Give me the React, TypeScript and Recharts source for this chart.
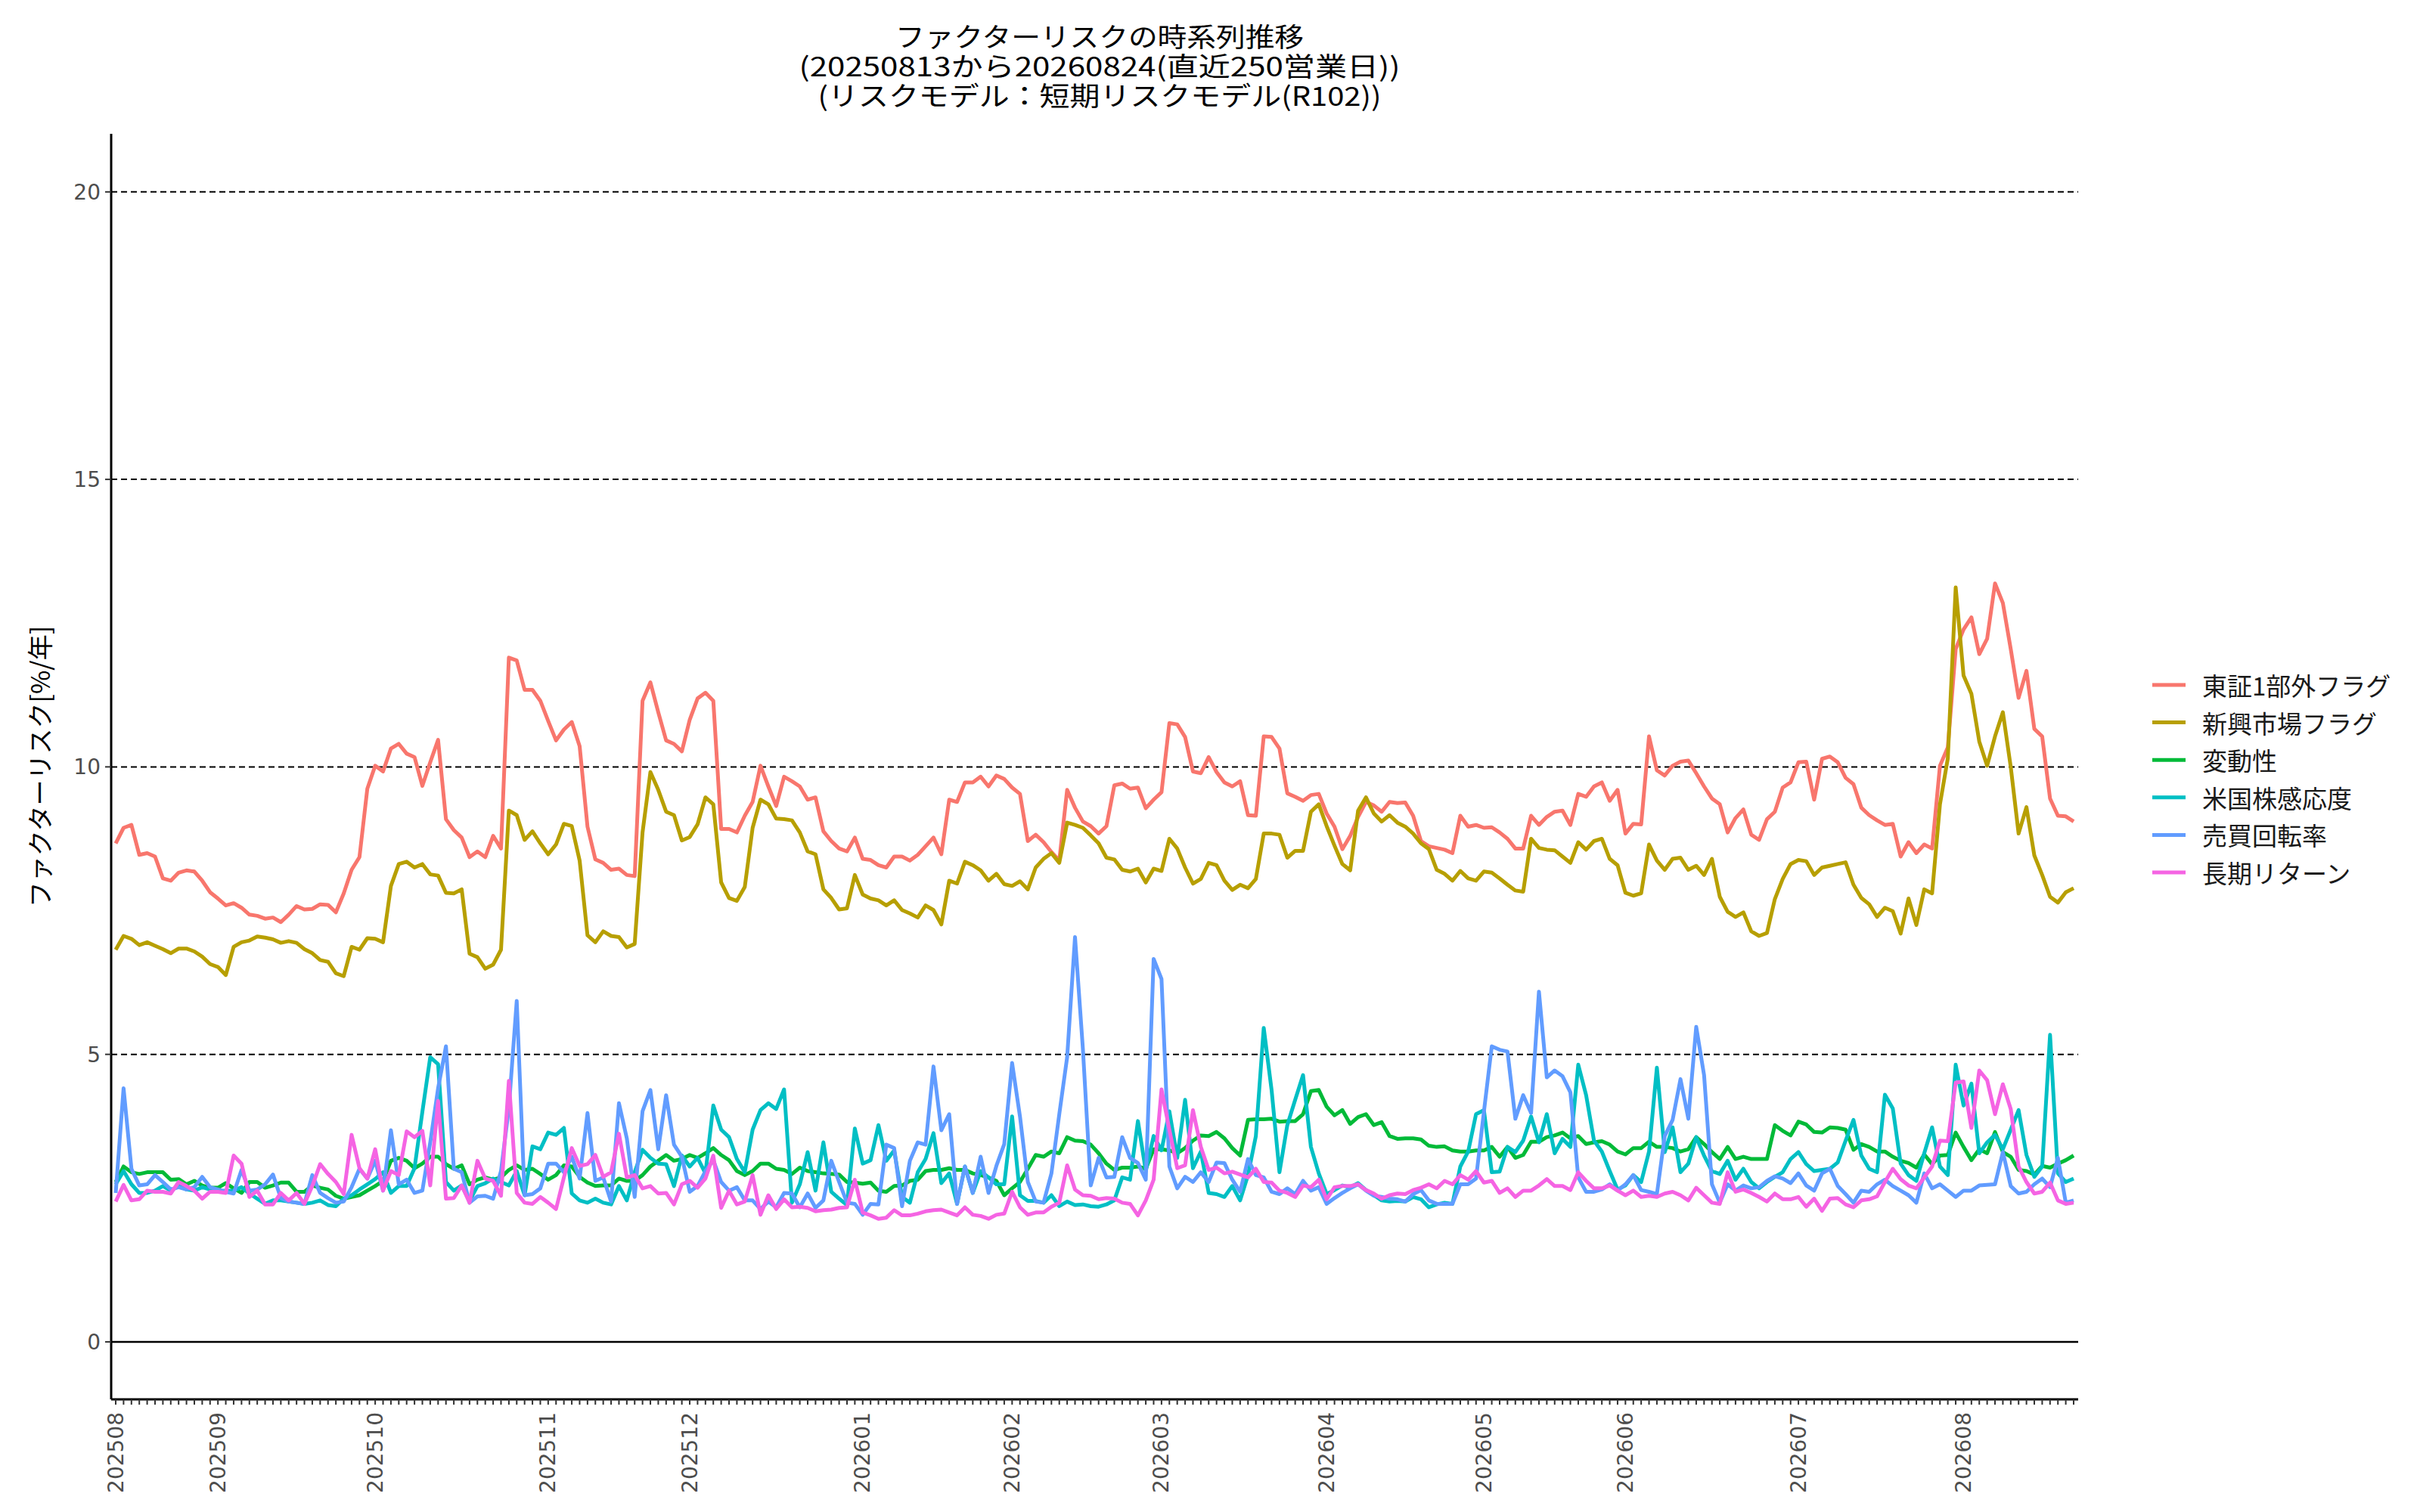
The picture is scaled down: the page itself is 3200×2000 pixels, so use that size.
import { CartesianGrid, Legend, Line, LineChart, ReferenceLine, XAxis, YAxis } from "recharts";

// 250 business days, 20250813 .. 20260824
const tosho = [
  8.67, 8.94, 8.99, 8.47, 8.5, 8.44, 8.06, 8.02, 8.16, 8.2, 8.18, 8.02, 7.82, 7.71, 7.59, 7.63, 7.55, 7.43, 7.41, 7.36,
  7.38, 7.3, 7.43, 7.58, 7.52, 7.53, 7.61, 7.6, 7.47, 7.8, 8.21, 8.43, 9.62, 10.02, 9.92, 10.32, 10.4, 10.23, 10.17, 9.67,
  10.08, 10.47, 9.09, 8.9, 8.77, 8.43, 8.53, 8.43, 8.8, 8.58,
  11.9, 11.85, 11.34, 11.34, 11.15, 10.8, 10.46, 10.65, 10.78, 10.36, 8.96, 8.39, 8.33, 8.21, 8.23, 8.12, 8.1, 11.15, 11.47, 10.95,
  10.46, 10.4, 10.27, 10.82, 11.19, 11.29, 11.15, 8.92, 8.92, 8.86, 9.15, 9.39, 10.02, 9.66, 9.32, 9.83, 9.75, 9.66, 9.43, 9.47,
  8.88, 8.71, 8.58, 8.53, 8.77, 8.4, 8.38, 8.29, 8.25, 8.44,
  8.44, 8.37, 8.47, 8.62, 8.77, 8.48, 9.43, 9.39, 9.73, 9.73, 9.83, 9.66, 9.85, 9.79, 9.64, 9.53, 8.71, 8.82, 8.69, 8.52,
  8.37, 9.6, 9.29, 9.05, 8.97, 8.84, 8.97, 9.68, 9.71, 9.62, 9.64, 9.28, 9.43, 9.56, 10.76, 10.74, 10.52, 9.92, 9.89, 10.17,
  9.91, 9.73, 9.66, 9.75, 9.16, 9.15, 10.53, 10.52, 10.32, 9.54,
  9.48, 9.41, 9.51, 9.53, 9.19, 8.96, 8.57, 8.8, 9.13, 9.39, 9.33, 9.22, 9.39, 9.37, 9.38, 9.15, 8.71, 8.62, 8.59, 8.56,
  8.5, 9.15, 8.96, 8.99, 8.94, 8.95, 8.86, 8.75, 8.58, 8.58, 9.15, 8.99, 9.13, 9.22, 9.24, 8.99, 9.53, 9.48, 9.66, 9.73,
  9.41, 9.6, 8.84, 9.01, 9.0, 10.53, 9.94, 9.85, 10.02, 10.09,
  10.11, 9.89, 9.66, 9.45, 9.35, 8.86, 9.11, 9.26, 8.82, 8.73, 9.09, 9.22, 9.64, 9.73, 10.08, 10.09, 9.43, 10.14, 10.18, 10.08,
  9.81, 9.7, 9.29, 9.16, 9.07, 8.99, 9.01, 8.44, 8.69, 8.5, 8.65, 8.58, 10.02, 10.34, 12.05, 12.39, 12.6, 11.96, 12.23, 13.19,
  12.85, 12.05, 11.2, 11.67, 10.66, 10.53, 9.45, 9.15, 9.14, 9.05,
];

const shinko = [
  6.82, 7.06, 7.01, 6.9, 6.95, 6.89, 6.83, 6.76, 6.84, 6.84, 6.79, 6.7, 6.57, 6.52, 6.38, 6.87, 6.95, 6.98, 7.05, 7.03,
  7.0, 6.94, 6.97, 6.94, 6.83, 6.76, 6.64, 6.61, 6.41, 6.36, 6.87, 6.82, 7.02, 7.01, 6.95, 7.93, 8.31, 8.35, 8.25, 8.31,
  8.13, 8.11, 7.81, 7.8, 7.87, 6.75, 6.69, 6.49, 6.56, 6.82,
  9.24, 9.16, 8.73, 8.88, 8.67, 8.48, 8.65, 9.01, 8.97, 8.37, 7.07, 6.95, 7.14, 7.06, 7.04, 6.86, 6.92, 8.86, 9.91, 9.6,
  9.22, 9.16, 8.72, 8.78, 9.0, 9.47, 9.35, 7.99, 7.72, 7.67, 7.91, 8.94, 9.43, 9.35, 9.1, 9.09, 9.07, 8.86, 8.53, 8.48,
  7.87, 7.72, 7.52, 7.54, 8.12, 7.78, 7.71, 7.68, 7.59, 7.68,
  7.51, 7.45, 7.38, 7.59, 7.51, 7.26, 8.02, 7.97, 8.35, 8.29, 8.2, 8.02, 8.14, 7.96, 7.93, 8.01, 7.87, 8.25, 8.4, 8.5,
  8.33, 9.03, 8.99, 8.94, 8.81, 8.67, 8.42, 8.39, 8.21, 8.18, 8.23, 7.99, 8.23, 8.19, 8.75, 8.58, 8.25, 7.97, 8.05, 8.33,
  8.29, 8.02, 7.86, 7.95, 7.89, 8.05, 8.84, 8.84, 8.82, 8.42,
  8.54, 8.54, 9.22, 9.35, 8.97, 8.63, 8.31, 8.2, 9.24, 9.47, 9.19, 9.05, 9.16, 9.03, 8.96, 8.84, 8.67, 8.57, 8.21, 8.14,
  8.02, 8.19, 8.06, 8.02, 8.18, 8.16, 8.06, 7.95, 7.85, 7.83, 8.75, 8.59, 8.56, 8.55, 8.44, 8.33, 8.69, 8.56, 8.71, 8.75,
  8.4, 8.29, 7.81, 7.76, 7.8, 8.65, 8.37, 8.21, 8.4, 8.42,
  8.21, 8.28, 8.12, 8.4, 7.74, 7.48, 7.39, 7.47, 7.14, 7.06, 7.11, 7.7, 8.05, 8.31, 8.38, 8.36, 8.12, 8.25, 8.28, 8.31,
  8.34, 7.95, 7.72, 7.61, 7.39, 7.55, 7.49, 7.1, 7.71, 7.25, 7.87, 7.8, 9.35, 10.15, 13.12, 11.59, 11.27, 10.44, 10.02, 10.53,
  10.95, 10.0, 8.84, 9.3, 8.46, 8.12, 7.74, 7.64, 7.82, 7.89,
];

const hendo = [
  2.78, 3.05, 2.95, 2.92, 2.95, 2.95, 2.95, 2.82, 2.83, 2.74, 2.8, 2.72, 2.68, 2.68, 2.76, 2.67, 2.59, 2.78, 2.78, 2.68,
  2.72, 2.77, 2.77, 2.61, 2.61, 2.72, 2.68, 2.65, 2.54, 2.49, 2.52, 2.55, 2.63, 2.71, 2.8, 3.15, 3.2, 3.15, 3.02, 3.1,
  3.22, 3.22, 3.09, 3.01, 3.07, 2.74, 2.82, 2.86, 2.82, 2.86,
  2.99, 3.07, 2.99, 3.01, 2.92, 2.82, 2.9, 3.07, 3.05, 2.87, 2.77, 2.71, 2.72, 2.72, 2.84, 2.8, 2.8, 2.9, 3.05, 3.15,
  3.25, 3.15, 3.18, 3.25, 3.2, 3.28, 3.37, 3.25, 3.16, 2.97, 2.9, 2.97, 3.1, 3.1, 3.01, 2.99, 2.92, 3.03, 2.97, 2.95,
  2.93, 2.92, 2.91, 2.78, 2.77, 2.75, 2.77, 2.63, 2.61, 2.71,
  2.72, 2.8, 2.82, 2.97, 2.99, 2.99, 3.02, 2.99, 2.99, 2.93, 2.9, 2.86, 2.8, 2.55, 2.67, 2.78, 3.01, 3.25, 3.22, 3.31,
  3.28, 3.56, 3.5, 3.49, 3.43, 3.28, 3.1, 2.99, 3.03, 3.03, 3.05, 3.01, 3.35, 3.35, 3.33, 3.28, 3.37, 3.5, 3.59, 3.58,
  3.65, 3.54, 3.37, 3.24, 3.86, 3.87, 3.87, 3.88, 3.83, 3.84,
  3.84, 3.96, 4.36, 4.38, 4.09, 3.94, 4.03, 3.79, 3.91, 3.96, 3.77, 3.82, 3.58, 3.53, 3.54, 3.54, 3.52, 3.41, 3.39, 3.4,
  3.33, 3.31, 3.31, 3.33, 3.33, 3.39, 3.22, 3.39, 3.2, 3.25, 3.48, 3.48, 3.56, 3.59, 3.64, 3.54, 3.58, 3.44, 3.47, 3.49,
  3.43, 3.31, 3.26, 3.37, 3.37, 3.48, 3.39, 3.39, 3.37, 3.31,
  3.35, 3.56, 3.44, 3.3, 3.18, 3.39, 3.18, 3.22, 3.18, 3.18, 3.18, 3.77, 3.67, 3.59, 3.83, 3.78, 3.65, 3.64, 3.73, 3.72,
  3.69, 3.34, 3.44, 3.39, 3.31, 3.31, 3.22, 3.15, 3.11, 3.03, 3.26, 3.09, 3.24, 3.25, 3.64, 3.39, 3.16, 3.35, 3.28, 3.65,
  3.3, 3.22, 2.99, 2.97, 2.91, 3.06, 3.03, 3.1, 3.16, 3.24,
];

const beikoku = [
  2.74, 2.97, 2.74, 2.59, 2.59, 2.63, 2.71, 2.63, 2.71, 2.65, 2.63, 2.69, 2.65, 2.63, 2.63, 2.63, 2.69, 2.58, 2.49, 2.4,
  2.46, 2.46, 2.44, 2.42, 2.4, 2.42, 2.46, 2.38, 2.36, 2.49, 2.55, 2.65, 2.74, 2.83, 2.95, 2.59, 2.71, 2.71, 3.02, 4.0,
  4.95, 4.83, 2.78, 2.63, 2.72, 2.45, 2.71, 2.76, 2.84, 2.78,
  2.72, 2.97, 2.55, 3.4, 3.35, 3.64, 3.6, 3.72, 2.58, 2.46, 2.42, 2.49, 2.42, 2.39, 2.71, 2.46, 2.95, 3.34, 3.2, 3.1,
  3.09, 2.71, 3.24, 3.05, 3.2, 2.93, 4.11, 3.69, 3.56, 3.18, 2.95, 3.69, 4.03, 4.15, 4.05, 4.39, 2.42, 2.74, 3.3, 2.63,
  3.47, 2.61, 2.49, 2.38, 3.71, 3.1, 3.16, 3.77, 3.15, 3.33,
  2.52, 2.42, 2.95, 3.18, 3.63, 2.76, 2.93, 2.4, 3.05, 2.59, 2.97, 2.86, 2.74, 2.74, 3.92, 2.55, 2.45, 2.45, 2.42, 2.55,
  2.36, 2.44, 2.38, 2.39, 2.36, 2.35, 2.39, 2.46, 2.86, 2.82, 3.84, 2.97, 3.58, 3.33, 4.01, 3.2, 4.21, 3.02, 3.31, 2.59,
  2.57, 2.52, 2.71, 2.46, 2.9, 3.58, 5.46, 4.38, 2.95, 3.77,
  4.21, 4.64, 3.39, 2.93, 2.57, 2.64, 2.72, 2.69, 2.76, 2.64, 2.55, 2.46, 2.44, 2.45, 2.44, 2.52, 2.48, 2.34, 2.39, 2.42,
  2.4, 3.05, 3.31, 3.96, 4.03, 2.95, 2.96, 3.39, 3.3, 3.5, 3.92, 3.47, 3.96, 3.28, 3.53, 3.39, 4.82, 4.29, 3.5, 3.31,
  2.97, 2.65, 2.72, 2.9, 2.78, 3.31, 4.77, 3.3, 3.73, 2.95,
  3.1, 3.56, 3.24, 2.97, 2.92, 3.15, 2.82, 3.01, 2.78, 2.67, 2.78, 2.87, 2.95, 3.18, 3.3, 3.09, 2.97, 2.99, 3.01, 3.12,
  3.5, 3.86, 3.24, 3.01, 2.95, 4.3, 4.06, 3.1, 2.9, 2.8, 3.28, 3.73, 3.05, 2.9, 4.82, 4.11, 4.49, 3.28, 3.47, 3.6,
  3.35, 3.69, 4.03, 3.25, 2.87, 3.05, 5.34, 2.93, 2.78, 2.84,
];

const baibai = [
  2.59, 4.41, 3.01, 2.72, 2.74, 2.9, 2.78, 2.65, 2.69, 2.65, 2.69, 2.87, 2.69, 2.65, 2.61, 2.58, 2.99, 2.63, 2.65, 2.74,
  2.91, 2.5, 2.44, 2.42, 2.4, 2.9, 2.59, 2.5, 2.42, 2.44, 2.69, 3.01, 2.84, 3.15, 2.63, 3.68, 2.74, 2.82, 2.59, 2.63,
  3.47, 4.41, 5.14, 3.01, 2.95, 2.42, 2.53, 2.54, 2.49, 2.97,
  4.07, 5.93, 2.55, 2.57, 2.67, 3.1, 3.1, 2.95, 3.22, 2.84, 3.98, 2.8, 2.86, 2.44, 4.15, 3.54, 2.52, 4.01, 4.38, 3.35,
  4.29, 3.43, 3.22, 2.61, 2.71, 2.97, 3.16, 2.78, 2.63, 2.69, 2.46, 2.46, 2.31, 2.44, 2.34, 2.59, 2.58, 2.34, 2.58, 2.33,
  2.46, 3.15, 2.78, 2.42, 2.4, 2.21, 2.4, 2.39, 3.43, 3.37,
  2.36, 3.15, 3.47, 3.43, 4.79, 3.68, 3.96, 2.4, 3.05, 2.59, 3.22, 2.59, 3.06, 3.44, 4.85, 3.92, 2.78, 2.44, 2.42, 2.93,
  3.96, 4.95, 7.04, 5.1, 2.72, 3.2, 2.86, 2.87, 3.56, 3.2, 3.11, 2.82, 6.66, 6.31, 3.05, 2.67, 2.87, 2.78, 2.95, 2.78,
  3.12, 3.11, 2.82, 2.61, 3.18, 2.9, 2.86, 2.61, 2.57, 2.67,
  2.57, 2.8, 2.63, 2.69, 2.4, 2.5, 2.59, 2.67, 2.74, 2.63, 2.54, 2.52, 2.49, 2.48, 2.44, 2.57, 2.64, 2.46, 2.4, 2.4,
  2.4, 2.74, 2.74, 2.84, 4.0, 5.14, 5.08, 5.05, 3.88, 4.29, 3.98, 6.09, 4.6, 4.72, 4.62, 4.34, 2.86, 2.61, 2.61, 2.65,
  2.74, 2.63, 2.74, 2.9, 2.64, 2.61, 2.57, 3.58, 3.86, 4.57,
  3.88, 5.48, 4.64, 2.74, 2.42, 2.74, 2.63, 2.72, 2.67, 2.69, 2.8, 2.88, 2.84, 2.76, 2.93, 2.72, 2.63, 2.93, 3.01, 2.71,
  2.57, 2.42, 2.63, 2.61, 2.74, 2.82, 2.71, 2.63, 2.55, 2.42, 2.93, 2.67, 2.74, 2.63, 2.52, 2.63, 2.63, 2.72, 2.73, 2.74,
  3.3, 2.71, 2.58, 2.61, 2.74, 2.84, 2.69, 3.2, 2.42, 2.46,
];

const choki = [
  2.44, 2.73, 2.46, 2.48, 2.63, 2.61, 2.61, 2.58, 2.78, 2.71, 2.63, 2.49, 2.61, 2.61, 2.59, 3.24, 3.1, 2.52, 2.63, 2.39,
  2.39, 2.59, 2.46, 2.59, 2.4, 2.71, 3.09, 2.92, 2.78, 2.57, 3.6, 3.02, 2.84, 3.35, 2.63, 2.97, 2.9, 3.66, 3.56, 3.67,
  2.72, 4.19, 2.49, 2.5, 2.72, 2.42, 3.15, 2.84, 2.8, 2.54,
  4.54, 2.59, 2.42, 2.4, 2.52, 2.42, 2.31, 2.86, 3.37, 3.06, 3.09, 3.25, 2.87, 2.95, 3.62, 2.86, 2.9, 2.67, 2.71, 2.58,
  2.59, 2.39, 2.74, 2.8, 2.68, 2.84, 3.24, 2.33, 2.63, 2.39, 2.44, 2.9, 2.21, 2.55, 2.31, 2.48, 2.34, 2.35, 2.33, 2.27,
  2.29, 2.3, 2.33, 2.34, 2.82, 2.25, 2.2, 2.14, 2.16, 2.29,
  2.2, 2.2, 2.23, 2.27, 2.29, 2.3, 2.25, 2.2, 2.34, 2.21, 2.19, 2.14, 2.21, 2.23, 2.61, 2.34, 2.21, 2.25, 2.25, 2.35,
  2.42, 3.07, 2.65, 2.55, 2.54, 2.48, 2.5, 2.49, 2.42, 2.4, 2.2, 2.46, 2.82, 4.39, 3.69, 3.02, 3.07, 4.03, 3.39, 2.99,
  3.03, 2.93, 2.96, 2.91, 2.86, 3.01, 2.78, 2.77, 2.63, 2.59,
  2.52, 2.72, 2.69, 2.82, 2.48, 2.69, 2.71, 2.71, 2.74, 2.64, 2.58, 2.49, 2.55, 2.58, 2.57, 2.64, 2.68, 2.74, 2.67, 2.8,
  2.74, 2.9, 2.82, 2.97, 2.77, 2.8, 2.59, 2.67, 2.52, 2.63, 2.63, 2.72, 2.83, 2.71, 2.71, 2.64, 2.95, 2.8, 2.67, 2.67,
  2.72, 2.63, 2.55, 2.63, 2.52, 2.54, 2.52, 2.58, 2.61, 2.55,
  2.46, 2.68, 2.55, 2.42, 2.4, 2.95, 2.61, 2.65, 2.59, 2.52, 2.44, 2.58, 2.48, 2.48, 2.52, 2.35, 2.49, 2.28, 2.49, 2.5,
  2.39, 2.34, 2.46, 2.48, 2.53, 2.78, 3.01, 2.83, 2.72, 2.67, 2.86, 3.05, 3.5, 3.49, 4.51, 4.53, 3.72, 4.72, 4.55, 3.96,
  4.48, 4.05, 3.05, 2.78, 2.58, 2.61, 2.77, 2.46, 2.4, 2.42,
];

// month labels and the day index where each month starts
const monthLabels = ["202508", "202509", "202510", "202511", "202512", "202601", "202602", "202603", "202604", "202605", "202606", "202607", "202608"];
const monthStarts = [0, 13, 33, 55, 73, 95, 114, 133, 154, 174, 192, 214, 235];

const yTicks = [0, 5, 10, 15, 20];
const gridValues = [5, 10, 15, 20];

const series = [
  { key: "tosho", name: "東証1部外フラグ", color: "#F8766D" },
  { key: "shinko", name: "新興市場フラグ", color: "#B79F00" },
  { key: "hendo", name: "変動性", color: "#00BA38" },
  { key: "beikoku", name: "米国株感応度", color: "#00BFC4" },
  { key: "baibai", name: "売買回転率", color: "#619CFF" },
  { key: "choki", name: "長期リターン", color: "#F564E3" },
];

const titleLines = [
  "ファクターリスクの時系列推移",
  "(20250813から20260824(直近250営業日))",
  "(リスクモデル：短期リスクモデル(R102))",
];

const rows = tosho.map((v, i) => ({
  i,
  tosho: v,
  shinko: shinko[i],
  hendo: hendo[i],
  beikoku: beikoku[i],
  baibai: baibai[i],
  choki: choki[i],
}));

const jp = '"Noto Sans CJK JP", "Noto Sans", sans-serif';
const tickFont = '"DejaVu Sans", sans-serif';

function MonthTick(props: any) {
  const { x, y, payload } = props;
  const k = monthStarts.indexOf(payload.value);
  if (k < 0) return <g />;
  return (
    <text
      x={x}
      y={y}
      transform={`rotate(-90 ${x} ${y})`}
      textAnchor="end"
      dominantBaseline="central"
      fontSize={28}
      fontFamily={tickFont}
      fill="#4d4d4d"
    >
      {monthLabels[k]}
    </text>
  );
}

function LegendBox(props: any) {
  const items = [...(props.payload || [])];
  // keep the series order (the legend otherwise comes sorted by name)
  const order = series.map((s) => s.name);
  items.sort((a: any, b: any) => order.indexOf(a.value) - order.indexOf(b.value));
  return (
    <svg width={380} height={310}>
      {items.map((it: any, n: number) => {
        const cy = 32 + n * 49.6;
        return (
          <g key={it.value}>
            <line x1={16} x2={60} y1={cy} y2={cy} stroke={it.color} strokeWidth={5} />
            <text x={82} y={cy} dominantBaseline="central" fontSize={33} fontFamily={jp} fill="#1a1a1a">
              {it.value}
            </text>
          </g>
        );
      })}
    </svg>
  );
}

export default function App() {
  return (
    <div style={{ position: "absolute", left: 0, top: 0, width: 3200, height: 2000, background: "#fff" }}>
      <LineChart
        width={3200}
        height={2000}
        data={rows}
        margin={{ top: 177, right: 452, bottom: 9, left: 47 }}
      >
        <CartesianGrid
          vertical={false}
          horizontalValues={gridValues}
          stroke="#000"
          strokeDasharray="8 5"
          strokeWidth={2}
        />
        <XAxis
          dataKey="i"
          type="category"
          scale="point"
          interval={0}
          height={140}
          padding={{ left: 6, right: 6 }}
          axisLine={{ stroke: "#000", strokeWidth: 3 }}
          tickLine={{ stroke: "#333", strokeWidth: 2 }}
          tickSize={7}
          tickMargin={10}
          tick={<MonthTick />}
        />
        <YAxis
          type="number"
          domain={[-1, 21.01]}
          ticks={yTicks}
          width={100}
          allowDataOverflow
          axisLine={{ stroke: "#000", strokeWidth: 3 }}
          tickLine={{ stroke: "#333", strokeWidth: 2 }}
          tickSize={8}
          tickMargin={6}
          tick={{ fontSize: 28, fontFamily: tickFont, fill: "#4d4d4d" }}
        />
        <ReferenceLine y={0} stroke="#000" strokeWidth={2.5} />
        {series.map((s) => (
          <Line
            key={s.key}
            type="linear"
            dataKey={s.key}
            name={s.name}
            stroke={s.color}
            strokeWidth={5}
            strokeLinejoin="round"
            dot={false}
            activeDot={false}
            isAnimationActive={false}
          />
        ))}
        <Legend
          layout="vertical"
          align="center"
          verticalAlign="middle"
          content={<LegendBox />}
          wrapperStyle={{ left: 2830, top: 874, width: 380, height: 310 }}
        />
      </LineChart>
      <svg
        width={3200}
        height={2000}
        style={{ position: "absolute", left: 0, top: 0, pointerEvents: "none" }}
      >
        {titleLines.map((t, n) => (
          <text
            key={n}
            x={1454}
            y={46 + n * 39}
            textAnchor="middle"
            dominantBaseline="central"
            fontSize={35}
            fontFamily={jp}
            fill="#000"
            textLength={[540, 795, 745][n]}
            lengthAdjust="spacingAndGlyphs"
          >
            {t}
          </text>
        ))}
        <text
          x={51}
          y={1014}
          transform="rotate(-90 51 1014)"
          textAnchor="middle"
          dominantBaseline="central"
          fontSize={34}
          fontFamily={jp}
          fill="#000"
        >
          ファクターリスク[%/年]
        </text>
      </svg>
    </div>
  );
}
